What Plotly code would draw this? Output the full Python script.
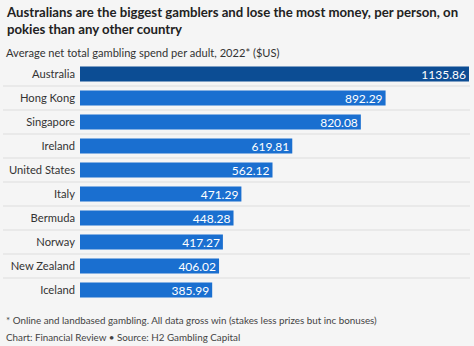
import plotly.graph_objects as go

countries = ["Australia", "Hong Kong", "Singapore", "Ireland", "United States",
             "Italy", "Bermuda", "Norway", "New Zealand", "Iceland"]
spend = [1135.86, 892.29, 820.08, 619.81, 562.12, 471.29, 448.28, 417.27, 406.02, 385.99]
labels = [f"{v:.2f}" for v in spend]

title = "Australians are the biggest gamblers and lose the most money, per person, on<br>pokies than any other country"
subtitle = "Average net total gambling spend per adult, 2022* ($US)"
note = "* Online and landbased gambling. All data gross win (stakes less prizes but inc bonuses)"
source = "Chart: Financial Review \u2022 Source: H2 Gambling Capital"

W, H = 474, 346
L, R, T, B = 80, 5, 62, 44
pw = W - L - R
ph = H - T - B

colors = ["#0c4d94"] + ["#1a6fd0"] * (len(countries) - 1)
font = "Lato"

fig = go.Figure(go.Bar(
    x=spend, y=countries, orientation="h",
    marker=dict(color=colors, line=dict(width=0)),
    text=labels, textposition="inside", insidetextanchor="end",
    textfont=dict(color="white", size=12, family=font),
    constraintext="none", hoverinfo="skip",
))

shapes = []
for i in range(len(countries) - 1):
    shapes.append(dict(type="line", xref="paper", yref="y",
                       x0=(3 - L) / pw, x1=(470 - L) / pw,
                       y0=i + 0.5, y1=i + 0.5,
                       line=dict(color="#dddddd", width=1), layer="below"))

def px(xp):
    return (xp - L) / pw

def py(yp):
    return (H - B - yp) / ph

annotations = [
    dict(text="<b>" + title + "</b>", xref="paper", yref="paper", x=px(4), y=py(2),
         xanchor="left", yanchor="top", showarrow=False, align="left",
         font=dict(family=font, size=13.2, color="#222222")),
    dict(text=subtitle, xref="paper", yref="paper", x=px(4), y=py(44),
         xanchor="left", yanchor="top", showarrow=False, align="left",
         font=dict(family=font, size=11.1, color="#333333")),
    dict(text=note, xref="paper", yref="paper", x=px(4), y=py(312),
         xanchor="left", yanchor="top", showarrow=False, align="left",
         font=dict(family=font, size=9.8, color="#444444")),
    dict(text=source, xref="paper", yref="paper", x=px(4), y=py(329),
         xanchor="left", yanchor="top", showarrow=False, align="left",
         font=dict(family=font, size=9.8, color="#444444")),
]

fig.update_layout(
    width=W, height=H,
    margin=dict(l=L, r=R, t=T, b=B, pad=0),
    paper_bgcolor="#f5f5f5", plot_bgcolor="#f5f5f5",
    bargap=0.37, showlegend=False,
    shapes=shapes, annotations=annotations,
    xaxis=dict(range=[0, max(spend)], visible=False, fixedrange=True, automargin=False),
    yaxis=dict(categoryorder="array", categoryarray=countries, autorange="reversed",
               showgrid=False, zeroline=False, showline=False, ticks="",
               ticklabelstandoff=4, automargin=False,
               tickfont=dict(family=font, size=11.2, color="#333333")),
    font=dict(family=font),
)

fig.write_html("out.html")
